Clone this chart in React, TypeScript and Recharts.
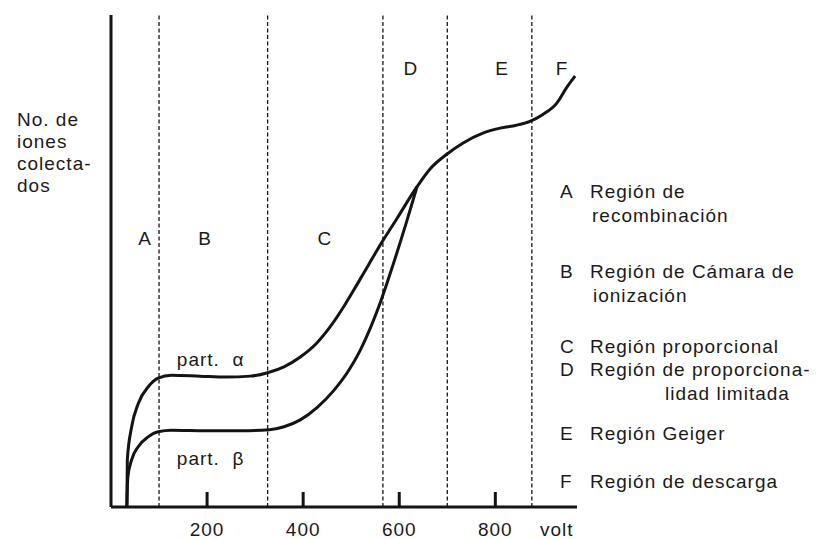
import { LineChart, Line, XAxis, YAxis, ReferenceLine, ReferenceDot } from "recharts";

const INK = "#141414";
const FONT = "'Liberation Sans', Arial, sans-serif";

// voltage axis
const voltTicks = [200, 400, 600, 800];
const regionBounds = [100, 326, 566, 700, 876];

// part. alpha curve (volts, relative ion count)
const alphaVolts = [33, 34, 43, 57, 78, 98, 126, 185, 240, 290, 326, 360, 394, 428, 456, 485, 512, 536, 560, 595, 637];
const alphaIons = [0, 9.6, 16.3, 21.1, 24.5, 26.2, 26.8, 26.6, 26.4, 26.6, 27.3, 28.5, 30.5, 33.3, 36.6, 40.8, 45.2, 49.2, 53.2, 58.6, 65.1];

// part. beta curve
const betaVolts = [33, 35, 43, 57, 78, 98, 126, 200, 270, 330, 360, 394, 430, 463, 497, 519, 540, 560, 588, 616, 637];
const betaIons = [0, 6, 9.6, 12.3, 14.3, 15.3, 15.6, 15.5, 15.5, 15.7, 16.3, 17.7, 20.3, 23.6, 28.1, 31.9, 36.4, 41.4, 49.5, 58.2, 65.1];

// shared part once both merge (Geiger region and beyond)
const tailVolts = [665, 699, 733, 774, 810, 844, 872, 899, 928, 948, 966];
const tailIons = [68.8, 71.7, 74, 76, 77, 77.6, 78.4, 79.8, 82.1, 85.2, 87.6];

const regionLetters = [
  { id: "A", v: 71, y: 53.3 },
  { id: "B", v: 196, y: 53.3 },
  { id: "C", v: 445, y: 53.3 },
  { id: "D", v: 624, y: 87.8 },
  { id: "E", v: 814, y: 87.8 },
  { id: "F", v: 939, y: 87.8 },
];

const partLabels = [
  { text: "part.  α", v: 137, y: 28.7 },
  { text: "part.  β", v: 137, y: 8.5 },
];

const yTitle = ["No. de", "iones", "colecta-", "dos"];

const legend = [
  { key: "A", lines: ["Región de", "recombinación"], base: 198, indents: [590, 592] },
  { key: "B", lines: ["Región de Cámara de", "ionización"], base: 278, indents: [590, 593] },
  { key: "C", lines: ["Región proporcional"], base: 353, indents: [590] },
  { key: "D", lines: ["Región de proporciona-", "lidad limitada"], base: 376, indents: [590, 665] },
  { key: "E", lines: ["Región Geiger"], base: 440, indents: [590] },
  { key: "F", lines: ["Región de descarga"], base: 488, indents: [590] },
];

const alphaData = alphaVolts
  .map((v, i) => ({ v, n: alphaIons[i] }))
  .concat(tailVolts.map((v, i) => ({ v, n: tailIons[i] })));
const betaData = betaVolts.map((v, i) => ({ v, n: betaIons[i] }));

const textStyle = { fontFamily: FONT, fontSize: 19, letterSpacing: 1, fill: "#1a1a1a" };

const VoltTick = (props: any) => {
  const { x, y, payload } = props;
  return (
    <g>
      <line x1={x} x2={x} y1={y - 15} y2={y} stroke={INK} strokeWidth={3} />
      <text x={x} y={y + 29} textAnchor="middle" style={textStyle}>
        {payload.value}
      </text>
    </g>
  );
};

export default function App() {
  return (
    <div style={{ position: "absolute", left: 0, top: 0, width: 817, height: 539, background: "#fff" }}>
      <LineChart width={817} height={539} margin={{ top: 15, right: 240, bottom: 0, left: 0 }}>
        <XAxis
          type="number"
          dataKey="v"
          domain={[0, 970]}
          ticks={voltTicks}
          allowDuplicatedCategory={false}
          height={32}
          tickSize={0}
          tickMargin={0}
          tickLine={false}
          tick={<VoltTick />}
          axisLine={{ stroke: INK, strokeWidth: 3 }}
        />
        <YAxis
          type="number"
          domain={[0, 100]}
          width={111}
          tick={false}
          tickLine={false}
          axisLine={{ stroke: INK, strokeWidth: 3 }}
        />
        {regionBounds.map((b) => (
          <ReferenceLine key={b} x={b} stroke={INK} strokeWidth={1.3} strokeDasharray="4 2.5" />
        ))}
        <Line
          data={alphaData}
          dataKey="n"
          type="monotone"
          stroke={INK}
          strokeWidth={3}
          dot={false}
          isAnimationActive={false}
        />
        <Line
          data={betaData}
          dataKey="n"
          type="monotone"
          stroke={INK}
          strokeWidth={3}
          dot={false}
          isAnimationActive={false}
        />
        {regionLetters.map((r) => (
          <ReferenceDot
            key={r.id}
            x={r.v}
            y={r.y}
            r={0}
            shape={(p: any) => (
              <text x={p.cx} y={p.cy} textAnchor="middle" style={textStyle}>
                {r.id}
              </text>
            )}
          />
        ))}
        {partLabels.map((l) => (
          <ReferenceDot
            key={l.text}
            x={l.v}
            y={l.y}
            r={0}
            shape={(p: any) => (
              <text x={p.cx} y={p.cy} style={{ ...textStyle, whiteSpace: "pre" }}>
                {l.text}
              </text>
            )}
          />
        ))}
      </LineChart>
      <svg
        width={817}
        height={539}
        style={{ position: "absolute", left: 0, top: 0, pointerEvents: "none" }}
      >
        {yTitle.map((t, i) => (
          <text key={t} x={17} y={126 + i * 22} style={textStyle}>
            {t}
          </text>
        ))}
        {legend.map((item) => (
          <g key={item.key}>
            <text x={560} y={item.base} style={textStyle}>
              {item.key}
            </text>
            {item.lines.map((line, i) => (
              <text key={line} x={item.indents[i]} y={item.base + i * 24} style={textStyle}>
                {line}
              </text>
            ))}
          </g>
        ))}
        <text x={540} y={536} style={textStyle}>
          volt
        </text>
      </svg>
    </div>
  );
}
